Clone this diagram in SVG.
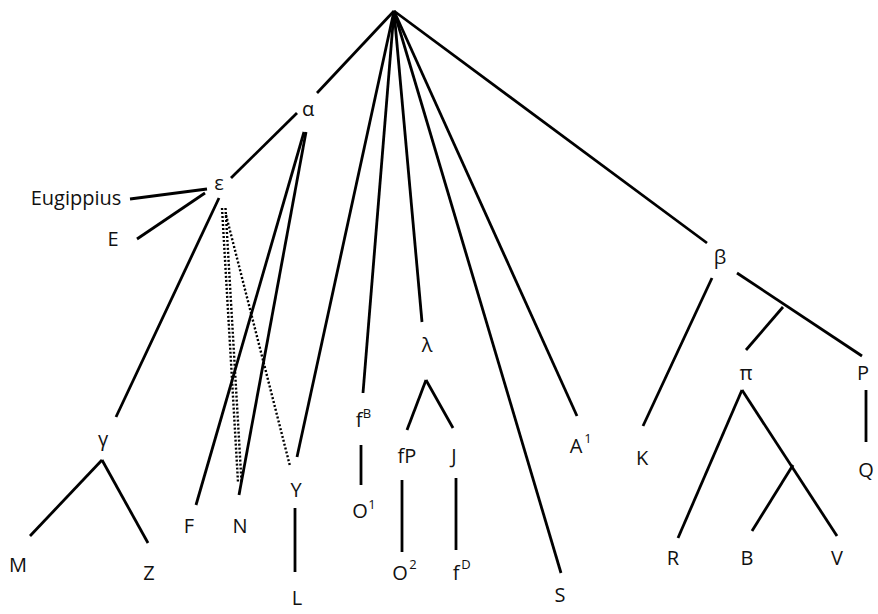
<svg xmlns="http://www.w3.org/2000/svg" width="878" height="614" viewBox="0 0 878 614">
<style>
.e{stroke:#000;stroke-width:2.8;fill:none;stroke-linecap:butt}
.d{stroke:#000;stroke-width:2.4;fill:none;stroke-dasharray:2 2}
text{font-family:"Open Sans","Liberation Sans",sans-serif;font-size:20px;fill:#111;text-anchor:middle}
.s{font-size:13px}
</style>
<rect width="878" height="614" fill="#fff"/>
<g id="connectors">
<line class="e" x1="394" y1="11" x2="317" y2="93"/>
<line class="e" x1="297" y1="113" x2="231" y2="178"/>
<line class="e" x1="304" y1="132" x2="196" y2="505"/>
<line class="e" x1="306" y1="132" x2="239" y2="495"/>
<line class="e" x1="394" y1="11" x2="297" y2="457"/>
<line class="e" x1="394" y1="11" x2="363" y2="393"/>
<line class="e" x1="394" y1="11" x2="422" y2="322"/>
<line class="e" x1="394" y1="11" x2="561" y2="573"/>
<line class="e" x1="394" y1="11" x2="577" y2="416"/>
<line class="e" x1="394" y1="11" x2="707" y2="243"/>
<line class="e" x1="207" y1="189" x2="130" y2="199"/>
<line class="e" x1="205" y1="193" x2="137" y2="239"/>
<line class="e" x1="219" y1="198" x2="116" y2="417"/>
<line class="e" x1="102" y1="460" x2="30" y2="536"/>
<line class="e" x1="102" y1="460" x2="148" y2="543"/>
<line class="e" x1="295" y1="508" x2="295" y2="572"/>
<line class="e" x1="361" y1="445" x2="361" y2="485"/>
<line class="e" x1="426" y1="380" x2="407" y2="430"/>
<line class="e" x1="426" y1="380" x2="453" y2="428"/>
<line class="e" x1="402" y1="480" x2="402" y2="552"/>
<line class="e" x1="456" y1="478" x2="456" y2="550"/>
<line class="e" x1="712" y1="278" x2="643" y2="426"/>
<line class="e" x1="737" y1="273" x2="862" y2="356"/>
<line class="e" x1="783" y1="307" x2="746" y2="350"/>
<line class="e" x1="866" y1="390" x2="866" y2="442"/>
<line class="e" x1="742" y1="390" x2="678" y2="538"/>
<line class="e" x1="742" y1="390" x2="837" y2="536"/>
<line class="e" x1="793" y1="465" x2="752" y2="531"/>
<line class="d" x1="222" y1="208" x2="238" y2="482"/>
<line class="d" x1="225.5" y1="208" x2="241.5" y2="482"/>
<line class="d" x1="226" y1="215" x2="290" y2="466"/>
</g>
<g id="n-alpha"><text x="308" y="116">α</text></g>
<g id="n-epsilon"><text x="219" y="190">ε</text></g>
<g id="n-eugippius"><text x="76" y="205">Eugippius</text></g>
<g id="n-E"><text x="113" y="246">E</text></g>
<g id="n-gamma"><text x="103" y="446">γ</text></g>
<g id="n-M"><text x="18" y="572">M</text></g>
<g id="n-Z"><text x="149" y="580">Z</text></g>
<g id="n-F"><text x="189" y="533">F</text></g>
<g id="n-N"><text x="240" y="533">N</text></g>
<g id="n-Y"><text x="296" y="497">Y</text></g>
<g id="n-L"><text x="297" y="605">L</text></g>
<g id="n-fB"><text x="359" y="427">f</text><text class="s" x="367" y="418">B</text></g>
<g id="n-O1"><text x="360" y="518">O</text><text class="s" x="372" y="509">1</text></g>
<g id="n-lambda"><text x="427" y="352">λ</text></g>
<g id="n-fP"><text x="407" y="463">fP</text></g>
<g id="n-J"><text x="454" y="463">J</text></g>
<g id="n-O2"><text x="400" y="580">O</text><text class="s" x="413" y="569">2</text></g>
<g id="n-fD"><text x="456" y="580">f</text><text class="s" x="466" y="569">D</text></g>
<g id="n-S"><text x="560" y="602">S</text></g>
<g id="n-A1"><text x="576" y="453">A</text><text class="s" x="588" y="443">1</text></g>
<g id="n-beta"><text x="720" y="264">β</text></g>
<g id="n-K"><text x="642" y="465">K</text></g>
<g id="n-pi"><text x="746" y="380">π</text></g>
<g id="n-P"><text x="863" y="380">P</text></g>
<g id="n-Q"><text x="866" y="477">Q</text></g>
<g id="n-R"><text x="673" y="565">R</text></g>
<g id="n-B"><text x="747" y="565">B</text></g>
<g id="n-V"><text x="837" y="565">V</text></g>
</svg>
